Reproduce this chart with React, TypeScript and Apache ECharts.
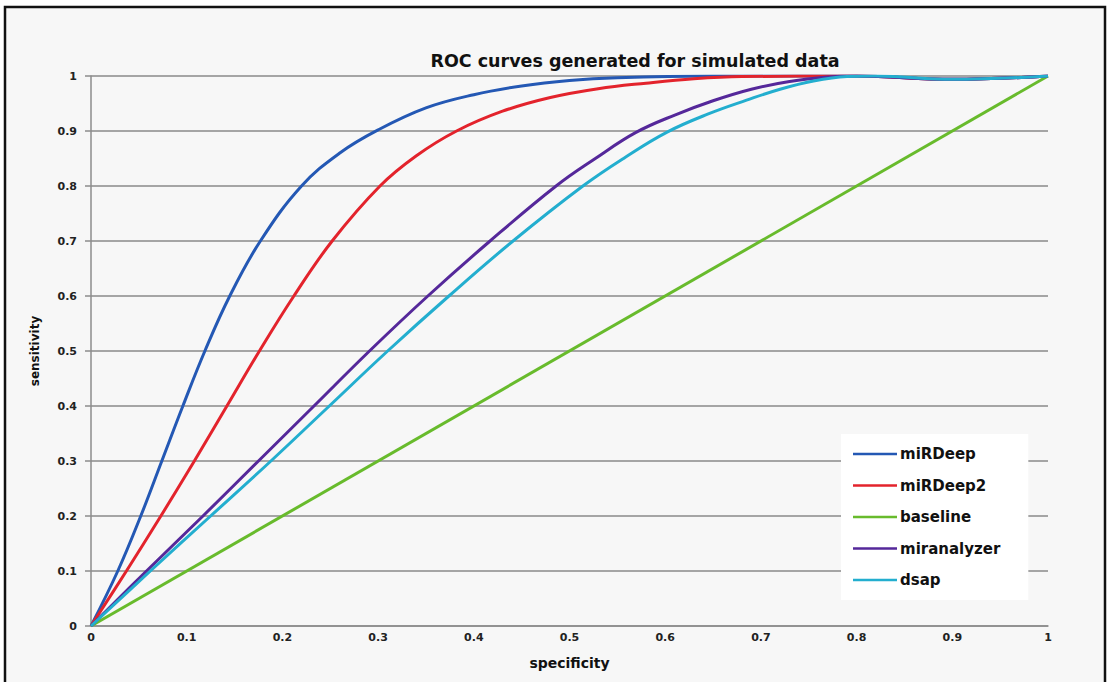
import React, { useEffect, useRef } from "react";
import * as echarts from "echarts";

// ROC curve points: [specificity, sensitivity]
const seriesNames = ["miRDeep", "miRDeep2", "baseline", "miranalyzer", "dsap"];
const seriesColors = ["#2458b4", "#e3232c", "#68bb2c", "#55289a", "#23aecf"];

const miRDeep: [number, number][] = [
  [0, 0], [0.028, 0.1], [0.052, 0.2], [0.074, 0.3], [0.096, 0.4], [0.119, 0.5],
  [0.145, 0.6], [0.177, 0.7], [0.22, 0.8], [0.26, 0.86], [0.3, 0.902],
  [0.35, 0.942], [0.4, 0.966], [0.45, 0.982], [0.5, 0.992], [0.55, 0.997],
  [0.65, 1], [0.8, 1], [0.9, 0.994], [1, 1],
];
const miRDeep2: [number, number][] = [
  [0, 0], [0.037, 0.1], [0.073, 0.2], [0.108, 0.3], [0.142, 0.4], [0.176, 0.5],
  [0.212, 0.6], [0.252, 0.7], [0.302, 0.8], [0.34, 0.855], [0.382, 0.9],
  [0.43, 0.936], [0.48, 0.961], [0.53, 0.977], [0.58, 0.987], [0.63, 0.995],
  [0.68, 0.999], [0.8, 1], [0.9, 0.994], [1, 1],
];
const baseline: [number, number][] = [
  [0, 0], [1, 1],
];
const miranalyzer: [number, number][] = [
  [0, 0], [0.058, 0.1], [0.117, 0.2], [0.175, 0.3], [0.233, 0.4], [0.291, 0.5],
  [0.352, 0.6], [0.417, 0.7], [0.486, 0.8], [0.527, 0.85], [0.569, 0.897],
  [0.61, 0.929], [0.65, 0.955], [0.69, 0.976], [0.73, 0.99], [0.77, 0.998],
  [0.8, 1], [0.9, 0.994], [1, 1],
];
const dsap: [number, number][] = [
  [0, 0], [0.062, 0.1], [0.125, 0.2], [0.188, 0.3], [0.249, 0.4], [0.31, 0.5],
  [0.374, 0.6], [0.441, 0.7], [0.514, 0.8], [0.558, 0.852], [0.602, 0.898],
  [0.645, 0.931], [0.685, 0.956], [0.72, 0.976], [0.755, 0.991], [0.79, 0.999],
  [0.82, 1], [0.9, 0.994], [1, 1],
];

const seriesData = [miRDeep, miRDeep2, baseline, miranalyzer, dsap];

const titleText = "ROC curves generated for simulated data";
const xName = "specificity";
const yName = "sensitivity";

const FONT = "DejaVu Sans";

export default function App() {
  const ref = useRef<HTMLDivElement>(null);

  useEffect(() => {
    if (!ref.current) return;
    const chart = echarts.init(ref.current, undefined, { renderer: "svg" });

    const axisLabel = {
      fontFamily: FONT,
      fontWeight: "bold" as const,
      fontSize: 11,
      color: "#222",
    };

    chart.setOption({
      animation: false,
      backgroundColor: "transparent",
      graphic: [
        {
          type: "rect",
          z: -10,
          shape: { x: 5, y: 7, width: 1100, height: 700 },
          style: { fill: "#f7f7f7", stroke: "#111", lineWidth: 2.5 },
        },
        {
          type: "text",
          x: 635,
          y: 61,
          style: {
            text: titleText,
            fontFamily: FONT,
            fontWeight: "bold",
            fontSize: 17.5,
            fill: "#111",
            textAlign: "center",
            textVerticalAlign: "middle",
          },
        },
      ],
      grid: { left: 91, right: 63, top: 76, bottom: 56, containLabel: false },
      xAxis: {
        type: "value",
        min: 0,
        max: 1,
        interval: 0.1,
        name: xName,
        nameLocation: "middle",
        nameGap: 30,
        nameTextStyle: { fontFamily: FONT, fontWeight: "bold", fontSize: 14, color: "#111" },
        axisLine: { show: true, lineStyle: { color: "#8c8c8c", width: 1.5 } },
        axisTick: { show: false },
        axisLabel: { ...axisLabel, margin: 6 },
        splitLine: { show: false },
      },
      yAxis: {
        type: "value",
        min: 0,
        max: 1,
        interval: 0.1,
        name: yName,
        nameLocation: "middle",
        nameGap: 50,
        nameTextStyle: { fontFamily: FONT, fontWeight: "bold", fontSize: 12, color: "#111" },
        axisLine: { show: true, lineStyle: { color: "#8c8c8c", width: 1.5 } },
        axisTick: { show: true, length: 6, lineStyle: { color: "#8c8c8c", width: 1.5 } },
        axisLabel: { ...axisLabel, margin: 14 },
        splitLine: { show: true, lineStyle: { color: "#8a8a8a", width: 1.5 } },
      },
      legend: {
        orient: "vertical",
        left: 841,
        top: 434,
        padding: [12, 28, 12, 12],
        backgroundColor: "#ffffff",
        icon: "rect",
        itemWidth: 44,
        itemHeight: 2.5,
        itemGap: 15.5,
        data: seriesNames,
        textStyle: {
          fontFamily: FONT,
          fontWeight: "bold",
          fontSize: 15,
          lineHeight: 16,
          color: "#111",
          padding: [0, 0, 0, -2],
        },
      },
      series: seriesData.map((d, i) => ({
        name: seriesNames[i],
        type: "line",
        data: d,
        smooth: 0.4,
        symbol: "none",
        color: seriesColors[i],
        lineStyle: { width: 3, color: seriesColors[i] },
      })),
    });

    return () => chart.dispose();
  }, []);

  return (
    <div style={{ position: "fixed", left: 0, top: 0, width: 1111, height: 682, background: "#ffffff" }}>
      <div ref={ref} style={{ width: 1111, height: 682 }} />
    </div>
  );
}
